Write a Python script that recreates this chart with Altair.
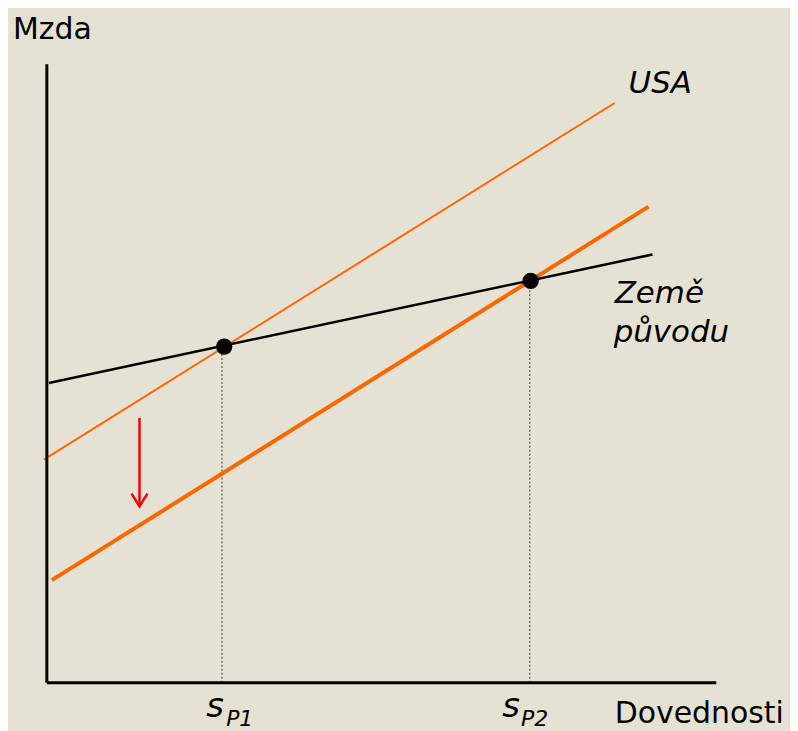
import altair as alt
import pandas as pd

# ---- data (conceptual units: skills on x, wage on y; axis origin = 0,0) ----
axis_len_x = 11.2
axis_len_y = 10.35

# home country wage line (Země původu)
home_x = [0.033, 10.133]
home_y = [5.017, 7.167]
# USA wage line (original)
usa_x = [-0.05, 9.5]
usa_y = [3.733, 9.7]
# USA wage line shifted down
usa2_x = [0.083, 10.067]
usa2_y = [1.717, 7.967]

# equilibrium points
eq_skill = [2.967, 8.095]
eq_wage = [5.625, 6.725]
drop_skill = [2.93, 8.08]
drop_top = [5.6, 6.72]

# shift arrow
arrow_x = [1.55]
arrow_y_start = [4.433]
arrow_y_end = [2.95]
arrow_head_y = [3.058]

# labels
tick_labels = ["s", "s"]
tick_subs = ["P1", "P2"]
tick_label_x = [2.667, 7.617]
tick_sub_x = [3.0, 7.933]

X_DOMAIN = [-0.65, 12.4333]
Y_DOMAIN = [-0.7833, 11.2667]
W, H = 785, 723

FONT = "DejaVu Sans"
BG = "#E5E2D3"
ORANGE = "#FF6600"

xs = alt.Scale(domain=X_DOMAIN, nice=False, zero=False)
ys = alt.Scale(domain=Y_DOMAIN, nice=False, zero=False)


def X(f="x"):
    return alt.X(f"{f}:Q", scale=xs, axis=None)


def Y(f="y"):
    return alt.Y(f"{f}:Q", scale=ys, axis=None)


def seg(x, y):
    return pd.DataFrame({"x": [x[0]], "y": [y[0]], "x2": [x[1]], "y2": [y[1]]})


def rule_layer(df, **kw):
    return alt.Chart(df).mark_rule(**kw).encode(
        x=X("x"), y=Y("y"), x2="x2:Q", y2="y2:Q"
    )


axes_df = pd.DataFrame({
    "x": [0, 0], "y": [0, 0],
    "x2": [0, axis_len_x], "y2": [axis_len_y, 0],
})
axes = rule_layer(axes_df, color="black", strokeWidth=3)

home = rule_layer(seg(home_x, home_y), color="black", strokeWidth=2.5)
usa = rule_layer(seg(usa_x, usa_y), color=ORANGE, strokeWidth=2)
usa2 = rule_layer(seg(usa2_x, usa2_y), color=ORANGE, strokeWidth=4)

drop_df = pd.DataFrame({"x": drop_skill, "y": [0, 0], "x2": drop_skill, "y2": drop_top})
drops = rule_layer(drop_df, color="#333333", strokeWidth=1, strokeDash=[2, 2])

dots_df = pd.DataFrame({"x": eq_skill, "y": eq_wage})
dots = alt.Chart(dots_df).mark_circle(color="black", opacity=1, size=270).encode(
    x=X(), y=Y()
)

shaft_df = pd.DataFrame({"x": arrow_x, "y": arrow_y_start, "x2": arrow_x, "y2": arrow_y_end})
shaft = rule_layer(shaft_df, color="#FF0000", strokeWidth=2.5)
head_df = pd.DataFrame({"x": arrow_x, "y": arrow_head_y})
head = alt.Chart(head_df).mark_point(
    shape="M -1 -0.8 L 0 0.8 L 1 -0.8", filled=False, color="#FF0000",
    strokeWidth=2.5, size=256, opacity=1
).encode(x=X(), y=Y())


# text labels
def text_layer(labels, x, y, size, italic=False):
    df = pd.DataFrame({"x": x, "y": y, "t": labels})
    return alt.Chart(df).mark_text(
        align="left", baseline="alphabetic", font=FONT, fontSize=size,
        fontStyle="italic" if italic else "normal", color="black"
    ).encode(x=X(), y=Y(), text="t:N")


t_mzda = text_layer(["Mzda"], [-0.567], [10.767], 30)
t_dov = text_layer(["Dovednosti"], [9.5], [-0.667], 30)
t_usa = text_layer(["USA"], [9.733], [9.867], 31, italic=True)
t_zeme = text_layer(["Země", "původu"], [9.5, 9.483], [6.35, 5.7], 31, italic=True)
t_s = text_layer(tick_labels, tick_label_x, [-0.567, -0.567], 34, italic=True)
t_sub = text_layer(tick_subs, tick_sub_x, [-0.717, -0.717], 22, italic=True)

chart = alt.layer(
    drops, usa, usa2, home, axes, dots, shaft, head,
    t_mzda, t_dov, t_usa, t_zeme, t_s, t_sub
).properties(
    width=W, height=H, background=BG, padding=0,
    autosize=alt.AutoSizeParams(type="none")
).configure_view(stroke=None)

chart.save("out.html", embed_options={"renderer": "svg", "actions": False})
